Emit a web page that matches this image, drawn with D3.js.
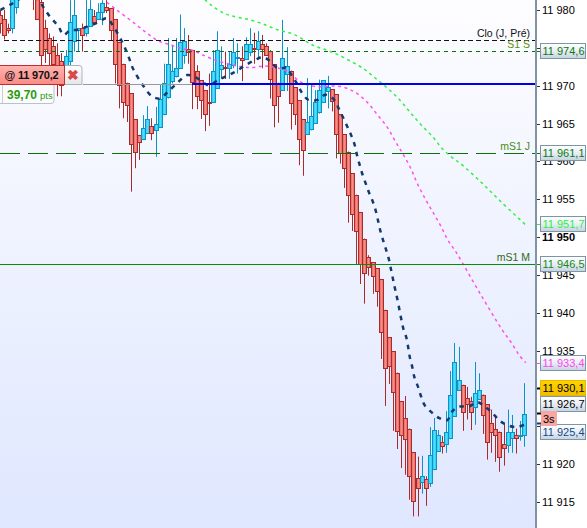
<!DOCTYPE html>
<html><head><meta charset="utf-8">
<script src="https://cdn.jsdelivr.net/npm/d3@7"></script>
<style>html,body{margin:0;padding:0;background:#fff;overflow:hidden}svg{display:block;font-family:"Liberation Sans",Arial,sans-serif}</style>
</head><body><div id="c"></div>
<script>
const PRICE_BASE = 11900;
const bodyTop = [79.3,78.8,77.6,82.2,83.1,85.3,85.7,85.3,83.1,82.2,81.1,77.6,76.3,75.3,74.1,73.3,73.9,78.4,79.3,77.6,77.6,77.9,80.1,79.2,79.8,80.9,80.4,80.2,78.8,75.8,72.9,70.4,69.0,65.6,63.5,64.4,65.6,64.7,64.9,68.3,70.4,72.8,72.0,72.3,75.8,75.9,74.9,74.7,71.9,70.7,69.4,67.9,71.9,74.7,72.7,72.5,72.9,74.5,73.8,73.6,75.5,75.5,75.0,75.9,75.5,75.2,74.6,72.8,70.4,73.6,72.6,72.0,69.8,68.1,65.6,65.2,66.0,67.8,69.4,70.7,69.8,69.5,68.9,66.2,63.6,61.3,58.4,55.6,53.3,49.8,47.4,46.7,45.9,44.4,40.4,36.8,34.9,32.1,28.3,26.1,24.7,21.6,18.2,18.4,18.0,21.2,24.5,23.8,22.9,24.3,29.1,33.5,31.1,30.4,28.7,28.3,29.4,29.8,29.2,27.9,25.4,24.7,24.3,22.6,24.3,24.2,23.8,23.8,26.6];
const bodyBottom = [78.3,76.7,77.4,77.6,80.4,83.5,84.4,83.1,81.5,78.8,74.1,74.9,74.3,72.8,70.3,70.1,72.1,73.3,75.9,77.3,76.7,77.0,77.9,78.4,78.8,79.8,80.0,77.3,72.9,70.1,67.9,67.5,62.3,61.3,62.5,62.9,63.7,63.8,64.2,64.5,66.3,68.5,70.6,71.3,72.4,74.1,74.5,70.5,68.6,68.1,66.3,67.7,67.8,69.7,72.2,72.4,72.4,72.7,73.6,73.4,73.5,74.5,74.9,74.9,74.9,74.1,70.9,67.4,68.6,69.4,71.5,67.7,66.2,63.0,61.5,63.6,64.3,65.1,66.5,67.9,69.3,68.0,63.6,61.1,59.1,55.5,53.0,50.8,46.4,45.2,46.0,44.9,42.9,37.4,32.7,33.0,29.5,24.4,23.9,23.3,18.4,15.1,16.9,17.6,16.9,17.5,19.3,21.8,22.4,22.6,23.4,26.3,29.8,26.9,27.9,26.9,27.6,28.6,26.5,22.9,24.2,23.8,21.0,22.2,22.5,23.4,23.5,23.7,23.8];
const highs = [80.0,80.0,78.2,83.1,84.0,86.2,86.6,86.2,84.0,83.1,81.8,78.7,76.9,76.5,75.6,74.3,74.7,81.3,81.8,77.6,78.2,81.3,81.3,80.0,80.9,81.3,81.3,80.2,78.8,75.8,72.9,70.4,69.0,65.6,63.5,66.1,67.3,65.7,67.2,70.1,72.9,76.3,75.4,76.3,79.4,77.6,76.7,74.7,72.7,70.7,69.4,71.6,74.7,77.2,75.2,74.5,74.5,76.3,75.6,75.2,76.4,77.6,77.0,77.2,76.7,75.6,74.7,72.8,70.4,78.7,75.1,72.0,69.8,68.1,65.6,71.0,70.3,69.4,70.8,70.7,71.3,69.5,68.9,66.2,63.6,61.3,58.4,55.6,53.3,49.8,47.6,46.7,45.9,44.4,40.4,36.8,34.9,32.1,28.3,29.0,24.7,21.6,21.0,21.1,18.4,24.9,26.1,24.5,23.7,27.0,32.3,36.0,35.5,30.5,30.2,28.9,33.5,32.0,29.2,27.9,27.2,26.5,24.3,25.4,27.2,26.5,24.7,25.7,30.7];
const lows = [76.9,76.1,76.9,76.9,79.5,82.2,82.6,82.2,80.0,78.7,72.7,73.0,72.7,72.5,68.6,68.6,70.3,72.5,74.5,74.5,74.5,76.5,77.8,78.0,78.7,78.0,79.6,76.0,70.3,67.0,65.7,65.2,56.0,59.1,60.2,62.8,63.6,62.8,60.6,64.4,66.1,68.3,70.3,71.1,72.3,72.9,72.9,66.9,66.9,65.6,64.0,64.7,67.7,69.7,70.9,70.9,70.9,72.3,71.6,70.6,73.4,73.9,72.9,73.5,72.3,74.1,68.3,64.5,65.1,69.3,69.3,64.2,64.8,59.5,58.1,63.5,64.1,65.0,66.3,67.8,67.0,66.6,60.4,59.7,56.5,51.9,50.8,46.4,43.8,41.2,44.9,42.5,40.8,33.9,27.7,30.6,24.4,22.0,19.5,18.6,15.3,13.1,13.1,16.1,14.5,17.0,19.2,21.7,21.4,21.5,23.3,26.3,29.7,24.4,25.9,24.5,25.2,28.5,24.0,20.6,21.5,20.3,19.0,19.8,21.5,21.5,21.4,23.1,22.3];
const risingCandles = [3,4,16,17,18,19,21,22,24,25,35,36,38,39,40,41,42,43,44,45,52,53,54,56,57,58,60,61,63,69,70,75,76,77,78,79,80,103,105,106,107,109,110,111,112,116,117,124,125,127,128];

const navyIndex = [0,2.4,4.8,6.8,8.9,12.1,14.2,15.4,17.0,19.1,21.1,23.6,26.0,27.6,29.7,31.3,32.5,35.0,37.0,39.0,40.7,43.1,45.6,48.0,50.5,51.3,53.3,55.8,57.8,59.8,61.9,64.1,65.9,68.0,69.8,71.2,72.5,73.7,75.3,77.3,79.4,81.4,82.6,84.7,85.7,86.5,87.1,87.7,88.4,89.2,90.0,91.0,91.7,92.3,92.8,93.5,94.2,94.9,95.4,95.9,96.4,96.9,98.5,99.1,99.6,100.0,100.6,101.1,102.0,102.7,103.6,105.2,107.1,109.1,110.4,112.0,114.4,116.5,118.3,120.1,121.8,123.6,126.0,127.9];
const navyPrice = [80.0,80.7,81.5,82.2,81.5,79.1,77.8,76.7,77.3,77.4,77.8,78.3,78.9,77.8,75.8,73.8,72.1,69.9,68.6,68.3,69.1,70.3,71.4,71.0,70.1,70.1,70.8,71.4,72.0,72.7,73.3,73.8,73.2,72.2,72.4,71.3,70.2,69.0,68.1,68.1,68.8,68.2,67.0,64.6,63.4,62.2,60.8,59.6,58.3,57.1,55.9,54.6,53.4,52.0,50.8,49.5,48.3,47.0,45.7,44.4,43.1,41.9,37.7,36.8,35.4,34.1,32.8,31.5,30.2,29.0,27.8,26.9,26.1,25.8,27.0,27.6,27.6,28.2,27.6,26.8,25.8,25.2,24.9,25.2];
const pinkIndex = [26.0,28.4,32.1,35.4,38.6,41.5,44.3,46.8,49.2,52.9,57.0,61.1,64.3,66.3,70.0,73.3,76.9,83.0,86.7,89.6,92.0,94.5,96.5,98.5,100.2,101.8,103.7,105.5,107.5,109.3,111.4,117.3,122.6,124.6,126.7,128.3];
const pinkPrice = [81.0,80.0,78.5,77.1,75.9,75.4,74.9,74.7,74.1,73.3,72.7,72.4,72.6,72.5,71.9,70.5,69.9,69.9,69.1,67.8,66.2,64.5,62.6,60.8,59.1,57.1,55.1,53.4,51.5,49.6,47.9,42.4,37.7,36.2,34.4,33.4];
const limeIndex = [48.8,51.3,54.5,56.6,60.2,63.9,67.6,71.6,76.5,80.2,83.9,88.8,92.0,94.9,97.7,100.2,102.6,105.5,107.9,110.8,112.4,117.3,122.2,128.3];
const limePrice = [82.0,80.7,79.6,79.2,78.8,78.2,77.4,76.8,75.3,74.6,73.7,72.2,70.8,69.5,68.0,66.4,64.9,63.3,61.7,60.3,59.7,57.3,54.7,51.6];

const tickPrices = [11980,11970,11965,11960,11955,11950,11945,11940,11935,11920,11915];
const tickMarks = [11980,11975,11970,11965,11960,11955,11950,11945,11940,11935,11930,11925,11920,11915];
const fmtPrice = v => d3.format(".0f")(v).replace(/^(\d\d)/,"$1 ");
const fmtTag = v => v.toFixed(1).replace(".",",").replace(/^(\d\d)/,"$1 ");

const W=587,H=528,axisX=535;
const svg=d3.select("#c").append("svg").attr("width",W).attr("height",H);
const defs=svg.append("defs");
function grad(id,stops,horizontal){
  const g=defs.append("linearGradient").attr("id",id).attr("x1",0).attr("y1",0).attr("x2",horizontal?1:0).attr("y2",horizontal?0:1);
  stops.forEach((c,i)=>g.append("stop").attr("offset",i/(stops.length-1)).attr("stop-color",c));
}
grad("bg",["#fdfdff","#dfe7ff"]);
grad("redBody",["#ea5f5a","#f58e86","#ea5f5a"],true);
grad("blueBody",["#1ec8f4","#52dcff","#1ec8f4"],true);
grad("tagG",["#ffffff","#e8eef6","#c4d2e0"]);
grad("tagY",["#ffd400","#f2bc00"]);
grad("order",["#ffb4b0","#f98a86"]);
grad("close",["#ffffff","#e6e6e6"]);
defs.append("clipPath").attr("id","plot").append("rect").attr("width",axisX).attr("height",H);

svg.append("rect").attr("width",axisX).attr("height",H).attr("fill","url(#bg)");
svg.append("rect").attr("x",axisX).attr("width",W-axisX).attr("height",H).attr("fill","#fff");

const y=d3.scaleLinear().domain([11915,11980]).range([502,10]);
const x=d3.scaleLinear().domain([0,128]).range([0,524]);
const P=v=>v+PRICE_BASE;
const plot=svg.append("g").attr("clip-path","url(#plot)");

const candles=d3.range(bodyTop.length).map(i=>({i,t:bodyTop[i],b:bodyBottom[i],h:highs[i],l:lows[i],up:risingCandles.includes(i)}));
const g=plot.selectAll("g.c").data(candles).join("g");
const cx=d=>Math.round(x(d.i));
g.append("line").attr("x1",d=>cx(d)+.5).attr("x2",d=>cx(d)+.5)
  .attr("y1",d=>y(P(d.h))).attr("y2",d=>y(P(d.l)))
  .attr("stroke",d=>d.up?"#0b93c4":"#a82a2a").attr("stroke-width",1);
g.append("rect").attr("x",d=>cx(d)-1.5).attr("width",4)
  .attr("y",d=>Math.round(y(P(d.t)))+.5)
  .attr("height",d=>Math.max(1,Math.round(y(P(d.b)))-Math.round(y(P(d.t)))))
  .attr("fill",d=>d.up?"url(#blueBody)":"url(#redBody)")
  .attr("stroke",d=>d.up?"#0b93c4":"#a82a2a").attr("stroke-width",1);

function ma(ix,pr,color,w,dash){
  const ln=d3.line().x((d,i)=>x(ix[i])+.5).y(d=>y(P(d))).curve(d3.curveCatmullRom.alpha(.5));
  plot.append("path").attr("d",ln(pr)).attr("fill","none").attr("stroke",color).attr("stroke-width",w).attr("stroke-dasharray",dash);
}
ma(pinkIndex,pinkPrice,"#ff50ee",1.5,"3 3.5");
ma(limeIndex,limePrice,"#30f040",1.5,"3 3.5");
ma(navyIndex,navyPrice,"#133a6e",2.5,"4.5 5.5");

function level(price,x0,color,w,dash){
  const ya=Math.round(y(price))+(w%2?.5:0);
  plot.append("line").attr("x1",x0).attr("x2",axisX).attr("y1",ya).attr("y2",ya)
    .attr("stroke",color).attr("stroke-width",w).attr("stroke-dasharray",dash||null);
}
level(11976.1,4,"#111",1,"5 3");
level(11974.6,4,"#0a700a",1,"4 4");
level(11970.2,83,"#999",1);
level(11970.2,192,"#0000e6",2);
level(11961.1,0,"#0a700a",1,"20 8");
level(11946.5,0,"#0a8a0a",1);

function lbl(t,price,color){
  svg.append("text").attr("x",530).attr("y",y(price)-3).attr("text-anchor","end")
    .attr("font-size",10.5).attr("fill",color).text(t);
}
lbl("Clo (J, Pré)",11976.1,"#111");
lbl("S1 S",11974.6,"#5f8a10");
lbl("mS1 J",11961.1,"#4c8a10");
lbl("mS1 M",11946.5,"#2f6a20");

svg.append("rect").attr("x",axisX).attr("width",2).attr("height",H).attr("fill","#7f93a5");
const tg=svg.append("g");
tg.selectAll("line").data(tickMarks).join("line").attr("x1",537).attr("x2",540)
  .attr("y1",d=>Math.round(y(d))+.5).attr("y2",d=>Math.round(y(d))+.5).attr("stroke","#333");
tg.selectAll("text").data(tickPrices).join("text").attr("x",542).attr("y",d=>y(d)+4)
  .attr("font-size",11).attr("font-weight",d=>d===11950?"bold":"normal").attr("fill","#000").text(fmtPrice);

function tag(price,color,fill,border,dy,tickCol,thick){
  const yp=y(price), yc=Math.round(yp+(dy||0));
  svg.append("line").attr("x1",537).attr("x2",541).attr("y1",Math.round(yp)+.5).attr("y2",Math.round(yp)+.5)
    .attr("stroke",tickCol||color).attr("stroke-width",thick||1);
  svg.append("rect").attr("x",540.5).attr("y",yc-7.5).attr("width",45).attr("height",15)
    .attr("fill",fill||"url(#tagG)").attr("stroke",border||"#7e95a6");
  svg.append("text").attr("x",542.5).attr("y",yc+4).attr("font-size",11).attr("fill",color).text(fmtTag(price));
}
tag(11974.6,"#0a7a0a");
tag(11961.1,"#0a7a0a");
tag(11951.7,"#2cf03c");
tag(11946.5,"#188a18");
tag(11933.4,"#ff44f0");
tag(11925.4,"#114a88",null,null,9,"#133a6e",2);
tag(11926.7,"#000",null,null,-9,"#000",2);
tag(11930.1,"#000","url(#tagY)","#e8b800",0,"#000",2);
svg.append("rect").attr("x",541).attr("y",411).attr("width",16).attr("height",15).attr("fill","#f9a5a2");
svg.append("text").attr("x",543).attr("y",423).attr("font-size",11).attr("fill","#000").text("3s");

svg.append("path").attr("d","M-2 103.5H51q3 0 3-3V84.5H-2Z").attr("fill","#fbfcfd").attr("stroke","#b8c2c8");
svg.append("line").attr("x1",2.5).attr("x2",2.5).attr("y1",85).attr("y2",103).attr("stroke","#c6ced3");
svg.append("path").attr("d","M64.5 65.5H79q3 0 3 3V84.5H64.5Z").attr("fill","url(#close)").attr("stroke","#a8b4bb");
svg.append("rect").attr("x",-2).attr("y",65.5).attr("width",66.5).attr("height",19).attr("fill","url(#order)").attr("stroke","#c22c2c");
svg.append("text").attr("x",4.5).attr("y",79).attr("font-size",11).attr("font-weight","bold").attr("letter-spacing",-0.2).attr("fill","#111").text("@ "+fmtTag(11970.2));
svg.append("text").attr("x",67).attr("y",80).attr("font-size",14).attr("font-weight","bold").attr("fill","#d84a4a").text("✖");
const pts=svg.append("text").attr("x",7).attr("y",99).attr("fill","#2f9a10");
pts.append("tspan").attr("font-size",12).attr("font-weight","bold").text("39,70");
pts.append("tspan").attr("dx",3).attr("font-size",9.5).text("pts");
</script></body></html>
